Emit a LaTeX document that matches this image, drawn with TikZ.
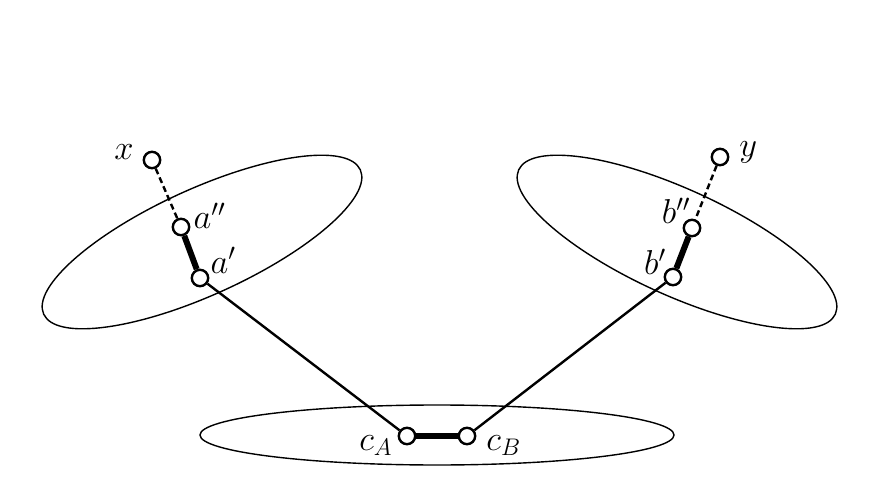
\documentclass[tikz,border=0pt]{standalone}
\usepackage{amsmath}
\usetikzlibrary{positioning}

\begin{document}
\begin{tikzpicture}[
    x=0.5pt, y=-0.5pt,
    font=\LARGE,
    node style/.style={circle, draw=black, fill=white, line width=1.2pt, minimum size=8.2pt, inner sep=0pt},
    blob style/.style={draw=black, line width=0.7pt},
    edge style/.style={line width=1.2pt},
    link style/.style={line width=3pt},
    walk style/.style={line width=1.2pt, dash pattern=on 3pt off 1.8pt}
]
\useasboundingbox (0,0) rectangle (880,487);
\draw[blob style, rotate around={24.5:(202,242)}] (202,242) ellipse (174 and 53);
\draw[blob style, rotate around={-24.5:(677,242)}] (677,242) ellipse (174 and 53);
\draw[blob style] (437,435) ellipse (237 and 30);

\node[node style, label={[label distance=1pt, yshift=4pt]left:$x$}] (x) at (152,160) {};
\node[node style, label={[label distance=-1.9pt, yshift=5.5pt]right:$a''$}] (a2) at (181,227) {};
\node[node style, label={[label distance=-2.9pt, yshift=8.8pt]right:$a'$}] (a1) at (200,278) {};
\node[node style, label={[label distance=1.5pt, yshift=2.5pt]right:$y$}] (y) at (720,157) {};
\node[node style, label={[label distance=-7.5pt, yshift=8.6pt]left:$b''$}] (b2) at (692,228) {};
\node[node style, label={[label distance=-4.8pt, yshift=7.6pt]left:$b'$}] (b1) at (673,277) {};
\node[node style, label={[label distance=-1pt, yshift=-4.8pt]left:$c_A$}] (cA) at (407,436) {};
\node[node style, label={[label distance=1.5pt, yshift=-4.8pt]right:$c_B$}] (cB) at (467,436) {};

\draw[walk style] (x) -- (a2);
\draw[link style] (a2) -- (a1);
\draw[edge style] (a1) -- (cA);
\draw[walk style] (y) -- (b2);
\draw[link style] (b2) -- (b1);
\draw[edge style] (b1) -- (cB);
\draw[link style] (cA) -- (cB);
\end{tikzpicture}
\end{document}
